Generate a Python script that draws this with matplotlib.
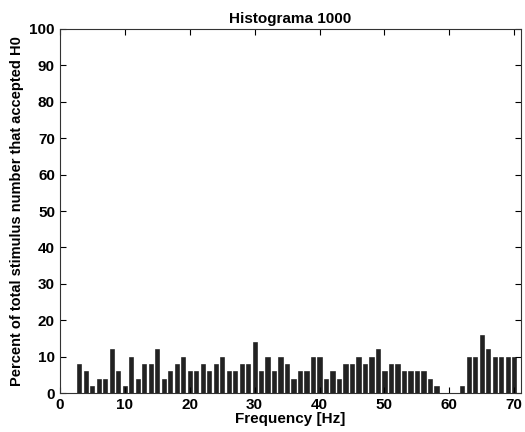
import numpy as np
import matplotlib
matplotlib.use("Agg")
import matplotlib.pyplot as plt

freq = np.arange(3, 71)
percent = [8, 6, 2, 4, 4, 12, 6, 2, 10, 4, 8, 8, 12, 4, 6, 8, 10, 6, 6, 8, 6, 8,   # 3-24
           10, 6, 6, 8, 8, 14, 6, 10, 6, 10, 8, 4, 6, 6, 10, 10, 4, 6, 4, 8, 8,    # 25-45
           10, 8, 10, 12, 6, 8, 8, 6, 6, 6, 6, 4, 2, 0, 0, 0, 2,                   # 46-62
           10, 10, 16, 12, 10, 10, 10, 10]                                         # 63-70
x_ticks = [0, 10, 20, 30, 40, 50, 60, 70]
y_ticks = [0, 10, 20, 30, 40, 50, 60, 70, 80, 90, 100]

plt.rcParams["font.family"] = "Liberation Sans"
plt.rcParams["font.weight"] = "bold"

fig = plt.figure(figsize=(5.25, 4.32), dpi=100)
ax = fig.add_axes([0.114, 0.090, 0.878, 0.843])

ax.bar(freq, percent, width=0.65, color="#222222", edgecolor="#111111", linewidth=0.4)

ax.set_xlim(0, 71)
ax.set_ylim(0, 100)
ax.set_xticks(x_ticks)
ax.set_yticks(y_ticks)
ax.tick_params(direction="in", top=True, right=True, labelsize=11, length=4, width=0.8)
for lbl in ax.get_xticklabels() + ax.get_yticklabels():
    lbl.set_fontweight("bold")
for s in ax.spines.values():
    s.set_linewidth(0.8)
    s.set_color("#333333")

ax.set_title("Histograma 1000", fontsize=11, fontweight="bold", pad=4)
ax.set_xlabel("Frequency [Hz]", fontsize=11, fontweight="bold", labelpad=0)
ax.set_ylabel("Percent of total stimulus number that accepted H0", fontsize=10.5,
              fontweight="bold", labelpad=4)

fig.savefig("out.png", dpi=100)
